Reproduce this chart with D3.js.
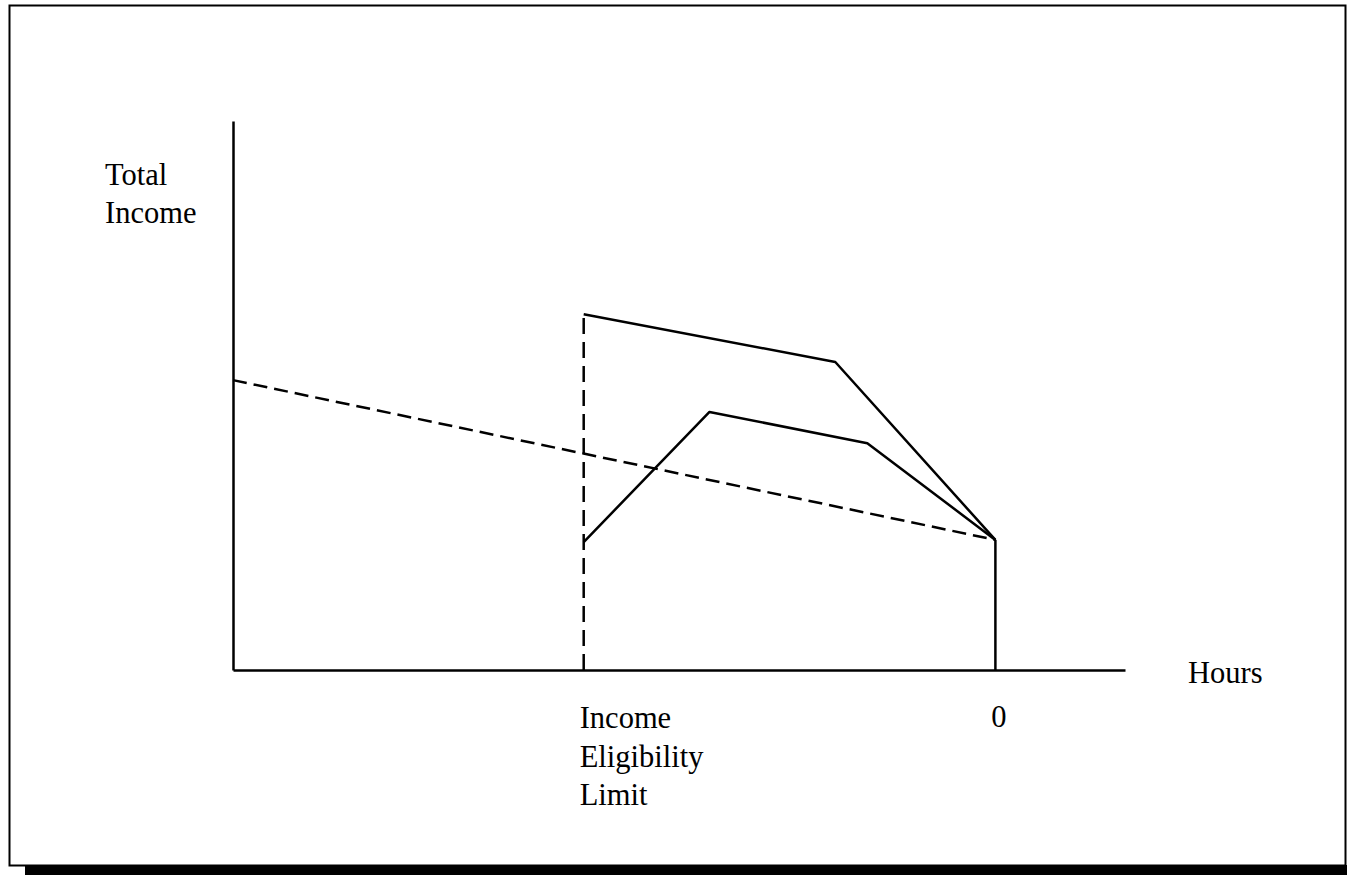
<!DOCTYPE html>
<html>
<head>
<meta charset="utf-8">
<script src="https://cdn.jsdelivr.net/npm/d3@7"></script>
<style>
  body { margin: 0; background: #fff; }
  svg text { font-family: "Liberation Serif", "Times New Roman", serif; font-size: 30.5px; fill: #000; }
</style>
</head>
<body>
<div id="chart-area"></div>
<script>
/*
*   total income vs hours worked (schematic)
*/
// hours run right to left, 0 sits near the right end of the axis
let hoursDomain = [50, -8.5];
let incomeDomain = [0, 100];

let eligibilityHours = 27;

// budget line without assistance (dashed)
let wageHours = [50, 0];
let wageIncome = [52.8, 23.7];

// upper solid line
let upperHours = [27, 10.5, 0];
let upperIncome = [64.8, 56.1, 23.7];

// lower solid line
let lowerHours = [27, 18.75, 8.4, 0];
let lowerIncome = [23.3, 47.0, 41.3, 23.7];

let yLabelLines = ["Total", "Income"];
let xLabel = "Hours";
let limitLabelLines = ["Income", "Eligibility", "Limit"];

let W = 1347, H = 875;

let svg = d3.select("#chart-area")
            .append("svg")
            .attr("width", W)
            .attr("height", H);

// frame
svg.append("rect")
    .attr("x", 9.5)
    .attr("y", 5.5)
    .attr("width", 1336)
    .attr("height", 860)
    .attr("fill", "none")
    .attr("stroke", "#000")
    .attr("stroke-width", 2);

svg.append("rect")
    .attr("x", 25)
    .attr("y", 865)
    .attr("width", W - 25)
    .attr("height", H - 865)
    .attr("fill", "#000");

let x = d3.scaleLinear()
    .domain(hoursDomain)
    .range([233, 1125]);

let y = d3.scaleLinear()
    .domain(incomeDomain)
    .range([670, 121]);

//x axis
let xAxis = d3.axisBottom(x)
    .tickValues([0])
    .tickSize(0)
    .tickSizeOuter(0)
    .tickPadding(35);

let xAxisGroup = svg.append("g")
    .attr("transform", "translate(0," + y(0) + ")")
    .call(xAxis);
xAxisGroup.select(".domain").attr("stroke", "#000").attr("stroke-width", 2.5);
xAxisGroup.selectAll(".tick text")
    .attr("font-family", null)
    .attr("font-size", null)
    .attr("dx", 3);

// y axis
let yAxisGroup = svg.append("g")
    .attr("transform", "translate(" + x(hoursDomain[0]) + ",0)")
    .call(d3.axisLeft(y).tickValues([]).tickSizeOuter(0));
yAxisGroup.select(".domain").attr("stroke", "#000").attr("stroke-width", 2.5);

let line = d3.line()
    .x(function(d){ return x(d[0]); })
    .y(function(d){ return y(d[1]); });

// eligibility limit (dashed vertical)
svg.append("path")
    .datum([[eligibilityHours, 0], [eligibilityHours, upperIncome[0]]])
    .attr("d", line)
    .attr("fill", "none")
    .attr("stroke", "#000")
    .attr("stroke-width", 2.5)
    .attr("stroke-dasharray", "16,8");

// wage line (dashed)
svg.append("path")
    .datum(d3.zip(wageHours, wageIncome))
    .attr("d", line)
    .attr("fill", "none")
    .attr("stroke", "#000")
    .attr("stroke-width", 2.5)
    .attr("stroke-dasharray", "14,7");

// solid lines
[d3.zip(upperHours, upperIncome), d3.zip(lowerHours, lowerIncome),
 [[0, wageIncome[1]], [0, 0]]].forEach(function(pts){
    svg.append("path")
        .datum(pts)
        .attr("d", line)
        .attr("fill", "none")
        .attr("stroke", "#000")
        .attr("stroke-width", 2.5)
        .attr("stroke-linejoin", "round");
});

// labels
svg.append("text")
    .selectAll("tspan")
    .data(yLabelLines)
    .enter().append("tspan")
        .attr("x", 105)
        .attr("y", function(d, i){ return 185 + i * 38; })
        .text(function(d){ return d; });

svg.append("text")
    .attr("x", 1188)
    .attr("y", 683)
    .text(xLabel);

svg.append("text")
    .selectAll("tspan")
    .data(limitLabelLines)
    .enter().append("tspan")
        .attr("x", x(eligibilityHours) - 4)
        .attr("y", function(d, i){ return 728 + i * 38.5; })
        .text(function(d){ return d; });
</script>
</body>
</html>
